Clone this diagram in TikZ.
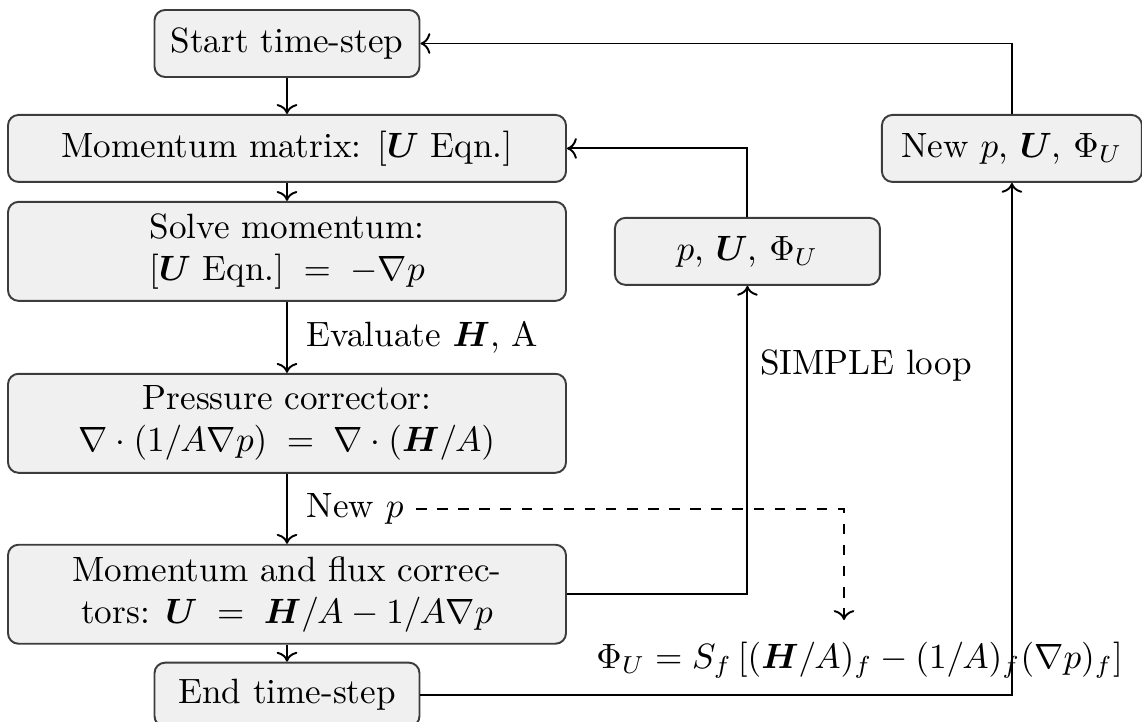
\documentclass[tikz,border=0pt]{standalone}
\usepackage{amsmath}
\usetikzlibrary{arrows.meta,positioning,calc}
\definecolor{boxfill}{HTML}{F0F0F0}
\definecolor{boxline}{HTML}{3C3C3C}
\tikzset{
  stepbox/.style={rectangle,rounded corners=3pt,draw=boxline,line width=0.55pt,fill=boxfill,align=center,minimum height=0.67cm,inner sep=2pt},
  widebox/.style={stepbox,minimum width=5.58cm},
  tallbox/.style={widebox,minimum height=0.99cm},
  flow/.style={->,line width=0.55pt},
  note/.style={font=\normalsize,align=left}
}

\begin{document}
\begin{tikzpicture}
    \useasboundingbox (0,0) rectangle (11.42,-7.22);
    % main column
    \node[stepbox,minimum width=2.65cm] (start) at (2.87,-0.435) {Start time-step};
    \node[widebox,below=0.36cm of start] (mom) {Momentum matrix: $[\boldsymbol{U}~\text{Eqn.}]$};
    \node[tallbox,below=0.18cm of mom] (solve) {Solve momentum:\\$[\boldsymbol{U}~\text{Eqn.}]\;=\;-\nabla p$};
    \node[tallbox,below=0.71cm of solve] (press) {Pressure corrector:\\$\nabla\cdot(1/A\nabla p)\;=\;\nabla\cdot(\boldsymbol{H}/A)$};
    \node[tallbox,below=0.7cm of press] (mf) {Momentum and flux correc-\\tors: $\boldsymbol{U}\;=\;\boldsymbol{H}/A-1/A\nabla p$};
    \node[stepbox,minimum width=2.65cm,minimum height=0.64cm,below=0.17cm of mf] (end) {End time-step};
    % loop results
    \node[stepbox,minimum width=2.65cm,right=0.47cm of solve] (pu) {$p$, $\boldsymbol{U}$, $\Phi_U$};
    \node[stepbox,minimum width=2.6cm,right=3.14cm of mom] (newpu) {New $p$, $\boldsymbol{U}$, $\Phi_U$};
    \node[anchor=west] (phi) at (5.84,-6.6) {$\Phi_U = S_f\,[(\boldsymbol{H}/A)_f-(1/A)_f(\nabla p)_f]$};
    \coordinate (pdrop) at (8.44,-6.2);

    \draw[flow] (start) -- (mom);
    \draw[flow] (mom) -- (solve);
    \draw[flow] (solve) -- node[right,xshift=2pt] (evalH) {Evaluate $\boldsymbol{H}$, A} (press);
    \draw[flow] (press) -- node[right,xshift=2pt] (newp) {New $p$} (mf);
    \draw[flow] (mf) -- (end);
    \draw[flow] (mf.east) -| node[pos=0.87,right] (simple) {SIMPLE loop} (pu.south);
    \draw[flow] (pu.north) |- (mom.east);
    \draw[flow] (end.east) -| (newpu.south);
    \draw[flow] (newpu.north) |- (start.east);
    \draw[flow,dashed] (newp.east) -| (pdrop);
  \end{tikzpicture}
\end{document}
